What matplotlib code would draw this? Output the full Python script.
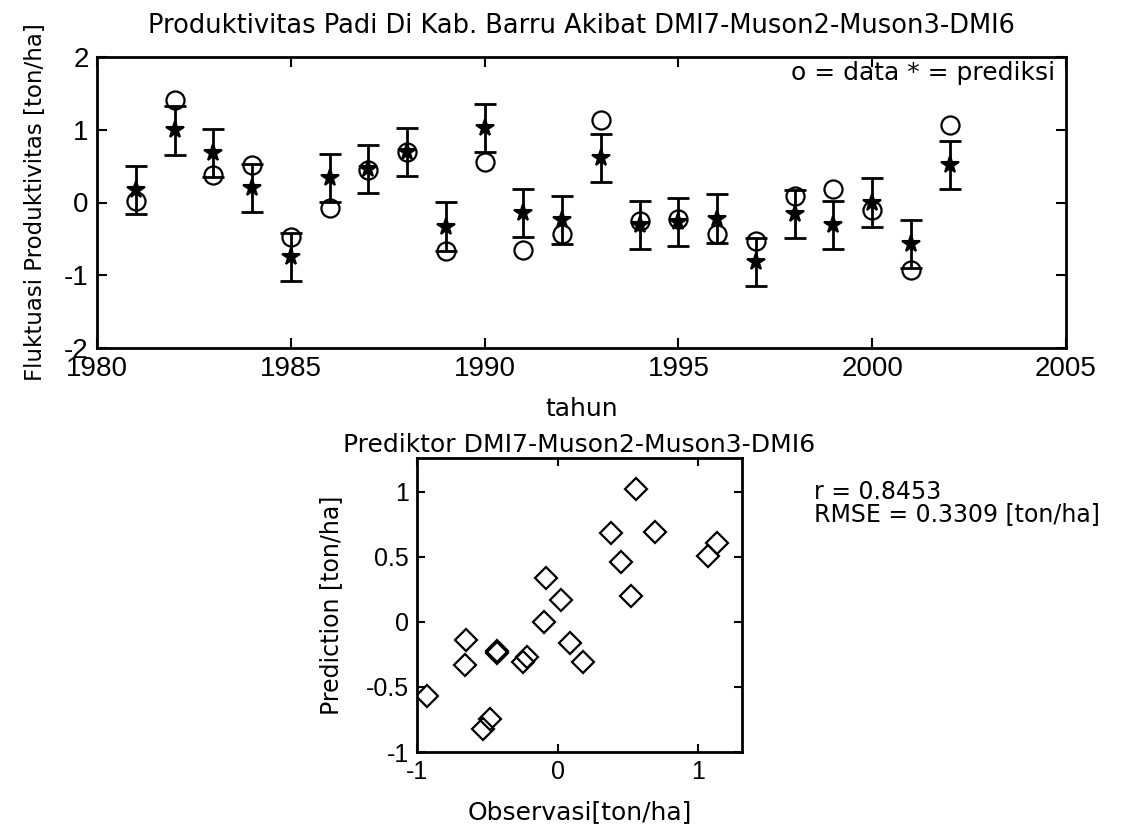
import numpy as np
import matplotlib
matplotlib.use("Agg")
import matplotlib.pyplot as plt

plt.rcParams['font.family'] = ['Liberation Sans', 'DejaVu Sans']
plt.rcParams['axes.unicode_minus'] = False
WIDE = 'DejaVu Sans'  # the reference text runs wider than Arial

# data
tahun = list(range(1981, 2003))
observasi = [0.02, 1.41, 0.38, 0.52, -0.48, -0.08, 0.45, 0.69, -0.66, 0.56, -0.65,
             -0.43, 1.13, -0.25, -0.22, -0.43, -0.53, 0.09, 0.18, -0.10, -0.93, 1.07]
prediksi = [0.17, 0.99, 0.68, 0.20, -0.75, 0.34, 0.46, 0.69, -0.33, 1.02, -0.14,
            -0.24, 0.61, -0.31, -0.27, -0.22, -0.82, -0.16, -0.31, 0.00, -0.57, 0.51]
r_val = 0.8453
rmse = 0.3309

W, H = 1131, 824
fig = plt.figure(figsize=(W / 100, H / 100), dpi=100)

def box(l, t, r, b):
    return [l / W, 1 - b / H, (r - l) / W, (b - t) / H]

# ---- top: time series with error bars ----
ax1 = fig.add_axes(box(97, 57, 1066, 348))
ax1.errorbar(tahun, prediksi, yerr=rmse, fmt='none', ecolor='black',
             elinewidth=2, capsize=8, capthick=2)
ax1.plot(tahun, prediksi, '*', color='black', markersize=13, mew=1.5)
ax1.plot(tahun, observasi, 'o', mfc='none', mec='black', markersize=13, mew=1.6)
ax1.set_xlim(1980, 2005)
ax1.set_ylim(-2, 2)
ax1.set_xticks([1980, 1985, 1990, 1995, 2000, 2005])
ax1.set_yticks([-2, -1, 0, 1, 2])
ax1.tick_params(direction='in', length=7, width=1.5, top=True, right=True,
                labelsize=20, pad=6)
ax1.set_title('Produktivitas Padi Di Kab. Barru Akibat DMI7-Muson2-Muson3-DMI6',
              fontsize=18.5, pad=17, family=WIDE)
ax1.set_xlabel('tahun', fontsize=18, family=WIDE)
ax1.xaxis.set_label_coords(0.5, -0.17)
ax1.set_ylabel('Fluktuasi Produktivitas [ton/ha]', fontsize=16.5, family=WIDE)
ax1.yaxis.set_label_coords(-0.052, 0.5)
ax1.text(0.989, 0.945, 'o = data * = prediksi', transform=ax1.transAxes,
         ha='right', va='center', fontsize=18, family=WIDE)
for s in ax1.spines.values():
    s.set_linewidth(2)

# ---- bottom: scatter observasi vs prediksi ----
ax2 = fig.add_axes(box(417, 458, 742, 752))
ax2.plot(observasi, prediksi, 'D', mfc='none', mec='black', markersize=11, mew=1.6)
ax2.set_xlim(-1.0, 1.31)
ax2.set_ylim(-1.0, 1.26)
ax2.set_xticks([-1, 0, 1])
ax2.set_yticks([-1, -0.5, 0, 0.5, 1])
ax2.set_yticklabels(['-1', '-0.5', '0', '0.5', '1'])
ax2.tick_params(direction='in', length=6, width=1.5, top=True, right=True,
                labelsize=18, pad=6)
ax2.set_title('Prediktor DMI7-Muson2-Muson3-DMI6', fontsize=18, pad=4, family=WIDE)
ax2.set_xlabel('Observasi[ton/ha]', fontsize=18, family=WIDE)
ax2.xaxis.set_label_coords(0.5, -0.165)
ax2.set_ylabel('Prediction [ton/ha]', fontsize=17, family=WIDE)
ax2.yaxis.set_label_coords(-0.228, 0.5)
for s in ax2.spines.values():
    s.set_linewidth(2)

fig.text(814 / W, 1 - 499 / H, 'r = %.4f' % r_val, fontsize=17, va='baseline',
         family=WIDE)
fig.text(814 / W, 1 - 521 / H, 'RMSE = %.4f [ton/ha]' % rmse, fontsize=17,
         va='baseline', family=WIDE)

fig.savefig('out.png', dpi=100)
